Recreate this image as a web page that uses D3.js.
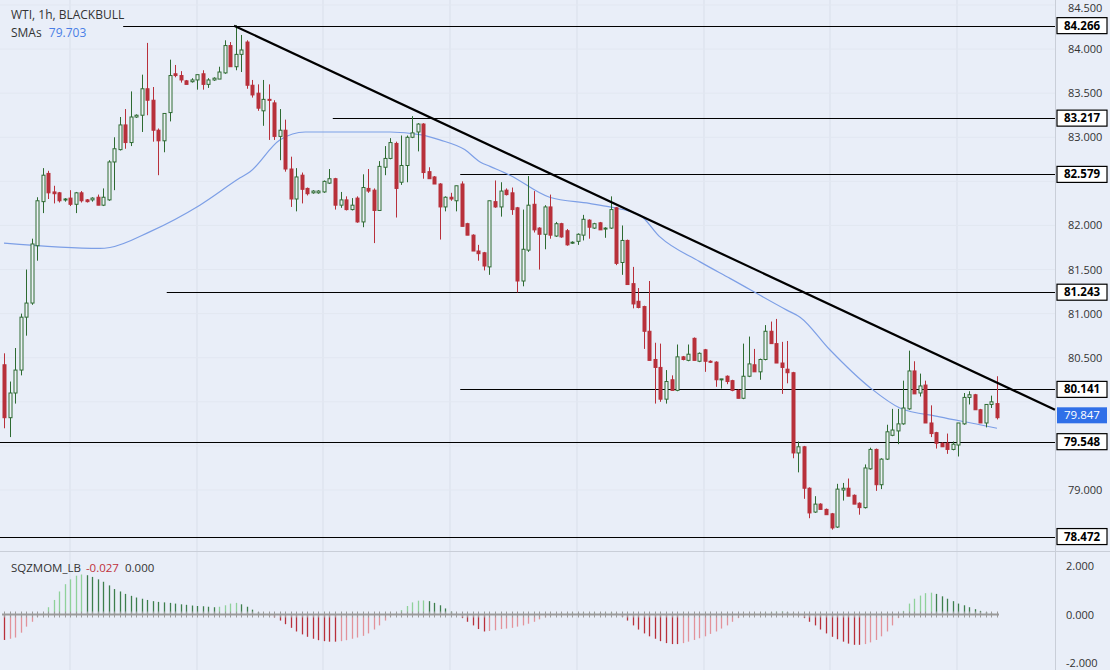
<!DOCTYPE html>
<html><head><meta charset="utf-8">
<script src="https://cdn.jsdelivr.net/npm/d3@7"></script>
<style>body{margin:0;background:#fff}svg{display:block;font-family:"Open Sans",Arial,sans-serif}</style>
</head><body><svg id="c" width="1110" height="670"></svg>
<script>
const opens=[80.42,79.82,80.1,80.36,80.96,81.12,81.77,82.27,82.59,82.38,82.37,82.29,82.31,82.24,82.37,82.29,82.29,82.32,82.23,82.29,82.72,82.86,83.14,82.94,83.23,83.25,83.55,83.42,83.08,82.96,83.28,83.72,83.7,83.64,83.63,83.65,83.72,83.6,83.65,83.66,83.73,84.04,83.8,83.94,84.08,
83.59,83.5,83.30,83.43,83.39,83.01,83.08,82.64,82.3,82.57,82.42,82.37,82.37,82.38,82.48,82.53,82.23,82.29,82.18,82.31,82.04,82.42,82.4,82.17,82.66,82.76,82.93,82.49,82.68,83.0,83.06,83.15,82.61,82.55,82.47,82.21,82.32,82.28,82.47,82.02,81.89,81.71,81.69,
81.53,82.27,82.21,82.4,82.37,82.2,81.37,81.72,82.24,81.97,81.9,82.21,81.88,82.02,81.94,81.8,81.82,81.89,82.06,81.97,82.03,81.96,81.97,82.2,81.58,81.83,81.34,81.14,81.08,80.8,80.48,80.39,80.03,80.25,80.13,80.51,80.47,80.72,80.46,80.59,80.46,80.45,80.25,80.29,
80.24,80.13,80.04,80.29,80.42,80.34,80.48,80.8,80.66,80.44,80.37,80.33,79.42,79.49,79.02,78.75,78.84,78.78,78.73,78.58,79.0,79.02,78.94,78.85,78.8,79.24,79.46,79.06,79.35,79.62,79.67,79.75,79.92,80.35,80.1,80.19,79.76,79.65,79.53,79.53,79.46,79.51,79.75,80.05,80.08,79.91,79.76,79.97,79.98];
const highs=[80.55,80.23,80.61,81.0,81.5,81.85,82.32,82.65,82.62,82.45,82.38,82.31,82.4,82.38,82.39,82.3,82.32,82.35,82.42,82.74,83.0,83.23,83.32,83.52,83.26,83.71,84.07,83.57,83.1,83.05,83.88,83.82,83.75,83.65,83.67,83.71,83.76,83.67,83.68,83.8,84.1,84.08,84.27,84.16,84.1,
83.65,83.6,83.65,83.6,83.42,83.32,83.2,82.78,82.65,82.6,82.43,82.4,82.4,82.51,82.64,82.54,82.38,82.33,82.31,82.33,82.58,82.64,82.42,82.73,82.9,82.99,82.95,83.02,83.02,83.24,83.16,83.16,82.66,82.56,82.48,82.33,82.37,82.45,82.5,82.03,81.9,81.78,81.7,
82.28,82.51,82.49,82.42,82.43,82.21,82.18,82.56,82.39,81.98,82.23,82.35,82.04,82.03,81.96,81.82,81.91,82.12,82.07,82.03,82.04,81.98,82.33,82.21,82.0,81.84,81.53,81.29,81.09,81.37,80.67,80.66,80.36,80.3,80.65,80.52,80.65,80.73,80.56,80.6,80.47,80.46,80.26,80.3,
80.25,80.14,80.66,80.74,80.6,80.49,80.87,80.91,80.94,80.68,80.69,80.34,79.55,79.5,79.03,78.93,78.85,78.79,78.74,79.07,79.08,79.13,78.95,78.86,79.29,79.48,79.47,79.36,79.74,79.92,79.92,80.24,80.58,80.46,80.32,80.24,79.96,79.66,79.54,79.64,79.55,79.76,80.1,80.12,80.09,79.92,79.97,80.07,80.29];
const lows=[79.7,79.6,79.98,80.3,80.75,81.1,81.6,82.14,82.3,82.25,82.26,82.27,82.22,82.14,82.26,82.26,82.27,82.23,82.22,82.28,82.4,82.85,82.87,82.9,83.22,83.06,83.25,82.95,82.57,82.83,83.18,83.68,83.62,83.6,83.62,83.54,83.54,83.56,83.64,83.66,83.72,83.8,83.76,83.74,83.55,
83.45,83.3,83.13,82.97,82.97,82.74,82.61,82.21,82.16,82.25,82.34,82.36,82.36,82.37,82.47,82.18,82.2,82.17,82.17,82.03,81.98,82.37,81.8,82.17,82.57,82.75,82.09,82.46,82.49,82.99,82.84,82.53,82.53,82.47,81.84,82.16,82.28,82.16,81.99,81.89,81.71,81.6,81.49,
81.44,82.2,82.1,82.34,82.12,81.24,81.31,81.7,81.92,81.5,81.73,81.85,81.87,81.86,81.77,81.79,81.78,81.83,81.85,81.96,81.95,81.86,81.96,81.55,81.44,81.33,81.06,81.06,80.6,80.47,79.98,80.0,79.98,80.13,80.12,80.47,80.46,80.47,80.45,80.34,80.44,80.17,80.15,80.2,
80.12,80.04,80.03,80.28,80.34,80.25,80.47,80.66,80.44,80.09,80.21,79.36,79.2,78.9,78.68,78.74,78.78,78.72,78.55,78.57,78.88,78.93,78.84,78.72,78.79,79.23,78.99,79.01,79.34,79.61,79.52,79.74,79.91,80.09,80.06,79.76,79.6,79.47,79.49,79.41,79.45,79.38,79.74,79.97,79.91,79.76,79.71,79.93,79.8];
const closes=[79.82,80.1,80.36,80.96,81.12,81.79,82.28,82.57,82.37,82.36,82.28,82.30,82.24,82.37,82.28,82.27,82.31,82.23,82.32,82.72,82.87,83.14,82.94,83.23,83.25,83.55,83.42,83.08,82.96,83.27,83.7,83.7,83.65,83.6,83.65,83.71,83.6,83.65,83.67,83.74,84.04,83.8,83.94,83.99,83.59,
83.48,83.33,83.43,83.42,83.01,83.08,82.64,82.3,82.55,82.41,82.36,82.39,82.39,82.5,82.53,82.23,82.29,82.18,82.23,82.04,82.43,82.39,82.17,82.67,82.76,82.94,82.42,82.68,83.0,83.05,83.15,82.6,82.53,82.47,82.21,82.32,82.3,82.45,81.99,81.89,81.71,81.68,81.54,
82.28,82.21,82.39,82.35,82.18,81.37,81.73,82.23,81.95,81.9,82.21,81.89,82.02,81.87,81.78,81.81,81.9,82.07,81.98,82.02,81.95,81.97,82.18,81.57,81.83,81.33,81.11,81.07,80.8,80.47,80.39,80.03,80.23,80.13,80.51,80.48,80.54,80.47,80.55,80.46,80.45,80.25,80.26,80.23,
80.13,80.04,80.29,80.43,80.34,80.48,80.8,80.66,80.44,80.39,80.33,79.42,79.49,79.02,78.74,78.84,78.78,78.72,78.57,79.01,79.02,78.93,78.84,78.8,79.25,79.46,79.06,79.35,79.66,79.68,79.75,79.93,80.35,80.09,80.18,79.76,79.64,79.53,79.49,79.46,79.52,79.76,80.05,80.08,79.91,79.76,79.97,80.0,79.82];
const smaIdx=[0,17.4,19.2,26.5,35.5,42.8,44.6,50,54.6,59.1,70,75.4,79,83.5,86.3,88.1,91.7,98.9,106.1,109.8,115.2,118.9,126.1,131.6,141.9,144.3,149.7,157,162.4,169.6,176.9,180];
const smaVal=[81.80,81.74,81.75,81.93,82.23,82.54,82.61,82.97,83.06,83.06,83.06,83.03,82.97,82.86,82.72,82.67,82.57,82.32,82.25,82.21,82.12,81.87,81.59,81.40,81.04,80.96,80.59,80.16,79.93,79.83,79.74,79.70];
const mom=[-1.05,-1.0,-0.95,-0.75,-0.5,-0.3,-0.1,0.05,0.3,0.6,0.95,1.25,1.45,1.6,1.65,1.62,1.55,1.45,1.35,1.2,1.05,0.95,0.85,0.77,0.7,0.65,0.6,0.55,0.52,0.5,0.48,0.45,0.42,0.4,0.37,0.35,0.34,0.32,0.3,0.32,0.38,0.45,0.48,0.42,0.32,0.2,0.1,0.03,-0.05,-0.12,-0.25,-0.4,-0.55,-0.7,-0.82,-0.92,-1.0,-1.06,-1.1,-1.12,-1.12,-1.1,-1.06,-1.0,-0.95,-0.88,-0.78,-0.62,-0.45,-0.25,-0.08,0.05,0.18,0.35,0.5,0.57,0.58,0.55,0.48,0.38,0.25,0.12,0.03,-0.15,-0.3,-0.45,-0.6,-0.7,-0.68,-0.65,-0.6,-0.58,-0.55,-0.5,-0.45,-0.38,-0.3,-0.2,-0.12,-0.05,-0.03,0.05,0.06,0.08,0.07,0.08,0.06,0.08,0.07,0.08,0.1,0.05,-0.1,-0.25,-0.45,-0.62,-0.78,-0.9,-1.0,-1.1,-1.18,-1.22,-1.22,-1.18,-1.12,-1.05,-0.98,-0.9,-0.8,-0.7,-0.58,-0.45,-0.3,-0.15,-0.05,0.03,0.05,0.05,0.08,0.1,0.12,0.13,0.1,0.05,-0.05,-0.15,-0.3,-0.45,-0.62,-0.78,-0.92,-1.02,-1.12,-1.2,-1.25,-1.25,-1.22,-1.15,-1.05,-0.9,-0.7,-0.45,-0.15,0.15,0.45,0.65,0.78,0.88,0.9,0.85,0.75,0.65,0.55,0.45,0.38,0.3,0.22,0.15,0.1,0.05,-0.03];
const priceTicks=[84.5,84.0,83.5,83.0,82.5,82.0,81.5,81.0,80.5,80.0,79.5,79.0];
const momTicks=[2,0,-2];
const levels=[84.266,83.217,82.579,81.243,80.141,79.548,78.472];
const levelStart=[21.6,59.6,82.7,29.5,82.7,-1,-1];
const trend={i0:41.7,p0:84.266,i1:190.5,p1:79.91};
const lastPrice=79.847;

const svg=d3.select("#c");
const W=1110,H=670,PR=1055;
svg.append("rect").attr("width",W).attr("height",H).attr("fill","#e9eef8");
const x=d3.scaleLinear().domain([0,180]).range([4,997]);
const y=d3.scaleLinear().domain([84.5,79.0]).range([5,490]);
const ym=d3.scaleLinear().domain([2,-2]).range([566,663]);
[70,197,323,450,577,704,830,957].forEach(gx=>svg.append("line").attr("x1",gx).attr("x2",gx).attr("y1",0).attr("y2",H).attr("stroke","#d9dfea"));
priceTicks.forEach(t=>svg.append("line").attr("x1",0).attr("x2",PR).attr("y1",y(t)).attr("y2",y(t)).attr("stroke","#e2e7f1"));
svg.append("line").attr("x1",0).attr("x2",W).attr("y1",551.5).attr("y2",551.5).attr("stroke","#c9ced8");
svg.append("line").attr("x1",PR+.5).attr("x2",PR+.5).attr("y1",0).attr("y2",H).attr("stroke","#c9ced8");
levels.forEach((l,k)=>{svg.append("line").attr("x1",levelStart[k]<0?0:x(levelStart[k])).attr("x2",PR).attr("y1",Math.round(y(l))+.5).attr("y2",Math.round(y(l))+.5).attr("stroke","#000").attr("stroke-width",1.2);});
svg.append("path").datum(smaIdx.map((d,i)=>[d,smaVal[i]])).attr("fill","none").attr("stroke","#7d9fe6").attr("stroke-width",1.2)
 .attr("d",d3.line().x(d=>x(d[0])).y(d=>y(d[1])).curve(d3.curveMonotoneX));
const g=svg.append("g");
closes.forEach((c,i)=>{const o=opens[i],up=c>=o,col=up?"#2e6b32":"#b8303b";const cx=Math.round(x(i))+.5;
 g.append("line").attr("x1",cx).attr("x2",cx).attr("y1",y(highs[i])).attr("y2",y(lows[i])).attr("stroke",col).attr("stroke-width",1);
 const t=y(Math.max(o,c)),b=y(Math.min(o,c));
 g.append("rect").attr("x",cx-1.5).attr("y",t).attr("width",3).attr("height",Math.max(1,b-t)).attr("fill",up?"#eef2f8":col).attr("stroke",col).attr("stroke-width",1);});
svg.append("line").attr("x1",x(trend.i0)).attr("y1",y(trend.p0)).attr("x2",x(trend.i1)).attr("y2",y(trend.p1)).attr("stroke","#000").attr("stroke-width",2.2);
const boxes=levels.concat([lastPrice]);
const ax=svg.append("g").attr("font-size",11).attr("fill","#333");
priceTicks.forEach(t=>{if(boxes.some(b=>Math.abs(y(b)-y(t))<14))return;ax.append("text").attr("x",1068).attr("y",Math.max(y(t)+4,12)).text(t.toFixed(3));});
momTicks.forEach(t=>ax.append("text").attr("x",1066).attr("y",Math.min(ym(t)+4,667)).text(t.toFixed(3)));
levels.forEach(l=>{const yy=y(l);svg.append("rect").attr("x",1057).attr("y",yy-8).attr("width",50).attr("height",16).attr("fill","#fff").attr("stroke","#000").attr("stroke-width",1.2);
 svg.append("text").attr("x",1082).attr("y",yy+4).attr("text-anchor","middle").attr("font-size",11.5).attr("font-weight","bold").text(l.toFixed(3));});
svg.append("rect").attr("x",1057).attr("y",y(lastPrice)-8).attr("width",50).attr("height",16).attr("fill","#2f6fe8");
svg.append("text").attr("x",1082).attr("y",y(lastPrice)+4).attr("text-anchor","middle").attr("font-size",11.5).attr("fill","#fff").text(lastPrice.toFixed(3));
svg.append("text").attr("x",11).attr("y",19).attr("font-size",12).attr("fill","#333").text("WTI, 1h, BLACKBULL");
const t2=svg.append("text").attr("x",11).attr("y",37).attr("font-size",12).attr("fill","#333");t2.append("tspan").text("SMAs ");t2.append("tspan").attr("fill","#4a7ee6").attr("dx",4).text("79.703");
const t3=svg.append("text").attr("x",11).attr("y",572).attr("font-size",11.5).attr("fill","#333");t3.append("tspan").text("SQZMOM_LB ");t3.append("tspan").attr("fill","#c0303b").attr("dx",2).text("-0.027");t3.append("tspan").attr("dx",6).text("0.000");
mom.forEach((m,i)=>{const prev=i>0?mom[i-1]:m;let col;
 if(m>=0) col=m>=prev?"#8fd19a":"#3d7e4c"; else col=m<=prev?"#b8303b":"#e2939b";
 const cx=Math.round(x(i))+.5;svg.append("line").attr("x1",cx).attr("x2",cx).attr("y1",ym(0)).attr("y2",ym(m)).attr("stroke",col).attr("stroke-width",1.3);});
svg.append("line").attr("x1",x(0)-2).attr("x2",x(180)+2).attr("y1",ym(0)).attr("y2",ym(0)).attr("stroke","#9a9a9a").attr("stroke-width",2);
mom.forEach((m,i)=>{const cx=Math.round(x(i))+.5;svg.append("line").attr("x1",cx).attr("x2",cx).attr("y1",ym(0)-3).attr("y2",ym(0)+3).attr("stroke","#9a9a9a").attr("stroke-width",1);});
</script></body></html>
